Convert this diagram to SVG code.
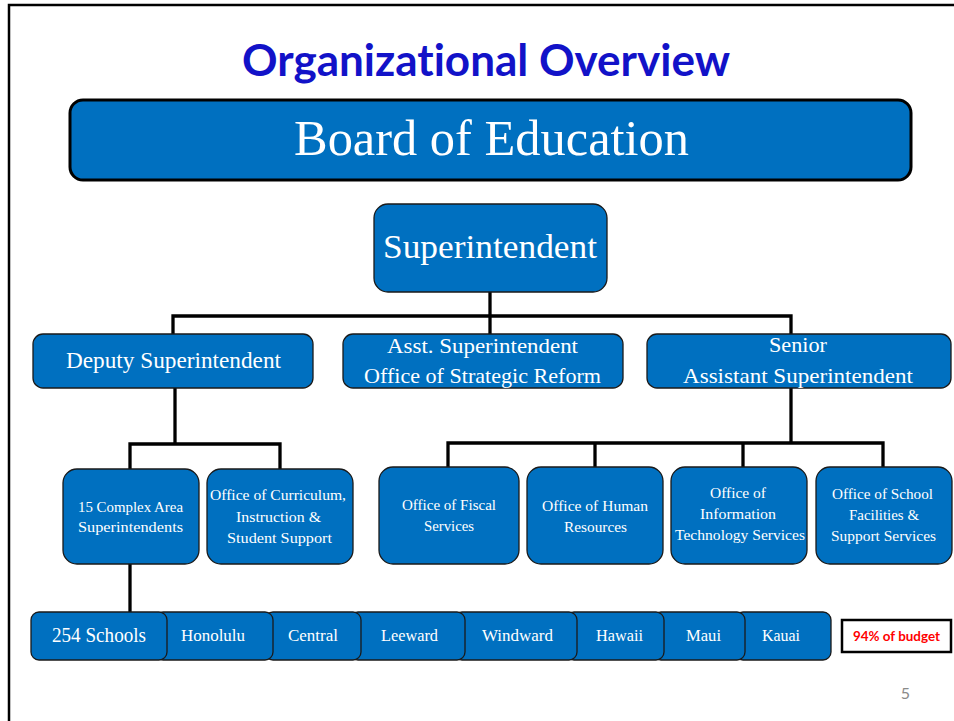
<svg xmlns="http://www.w3.org/2000/svg" width="954" height="721" viewBox="0 0 954 721">
  <style>
    .box { fill: #0070C0; stroke: #1a1a1a; stroke-width: 1.3; }
    .board { fill: #0070C0; stroke: #000; stroke-width: 3; }
    .lbl { font-family: "Liberation Serif", "DejaVu Serif", serif; fill: #fff; text-anchor: middle; }
    .wire { fill: none; stroke: #000; stroke-width: 3.3; stroke-linecap: butt; stroke-linejoin: miter; }
    .title { font-family: Lato, "Open Sans", "Liberation Sans", sans-serif; font-weight: bold; fill: #1212C8; text-anchor: middle; font-variant-ligatures: none; }
  </style>

  <rect width="954" height="721" fill="#fff"/>
  <!-- slide frame -->
  <path d="M9,722 V5 H956" fill="none" stroke="#000" stroke-width="2.5"/>

  <text class="title" x="486" y="76" font-size="44" textLength="488" lengthAdjust="spacingAndGlyphs">Organizational Overview</text>

  <!-- connectors -->
  <g id="connectors" class="wire">
    <path d="M490,292 V334"/>
    <path d="M173,334 V316 H791 V334"/>
    <path d="M175,388 V444"/>
    <path d="M130,469 V444 H280 V469"/>
    <path d="M791,388 V443"/>
    <path d="M448,467 V443 H883 V467"/>
    <path d="M595,443 V467"/>
    <path d="M743,443 V467"/>
    <path d="M130,564 V612"/>
  </g>

  <g id="board">
    <rect class="board" x="70" y="100" width="841" height="80" rx="13"/>
    <text class="lbl" x="491.5" y="155" font-size="50" textLength="395" lengthAdjust="spacingAndGlyphs">Board of Education</text>
  </g>

  <g id="superintendent">
    <rect class="box" x="374" y="204" width="233" height="88" rx="14"/>
    <text class="lbl" x="490" y="258" font-size="34" textLength="214" lengthAdjust="spacingAndGlyphs">Superintendent</text>
  </g>

  <g id="deputy">
    <rect class="box" x="33" y="334" width="280" height="54" rx="10"/>
    <text class="lbl" x="173.5" y="368" font-size="23" textLength="215" lengthAdjust="spacingAndGlyphs">Deputy Superintendent</text>
  </g>

  <g id="asst-strategic">
    <rect class="box" x="343" y="334" width="280" height="54" rx="10"/>
    <text class="lbl" x="482.5" y="353" font-size="22" textLength="191" lengthAdjust="spacingAndGlyphs">Asst. Superintendent</text>
    <text class="lbl" x="482.5" y="383" font-size="22" textLength="237" lengthAdjust="spacingAndGlyphs">Office of Strategic Reform</text>
  </g>

  <g id="senior-asst">
    <rect class="box" x="647" y="334" width="304" height="54" rx="10"/>
    <text class="lbl" x="798" y="352" font-size="22" textLength="58" lengthAdjust="spacingAndGlyphs">Senior</text>
    <text class="lbl" x="798" y="383" font-size="22" textLength="230" lengthAdjust="spacingAndGlyphs">Assistant Superintendent</text>
  </g>

  <g id="complex-area">
    <rect class="box" x="63" y="469" width="136" height="95" rx="14"/>
    <text class="lbl" x="130.5" y="512" font-size="15" textLength="105" lengthAdjust="spacingAndGlyphs">15 Complex Area</text>
    <text class="lbl" x="130.5" y="532" font-size="15" textLength="105" lengthAdjust="spacingAndGlyphs">Superintendents</text>
  </g>

  <g id="curriculum">
    <rect class="box" x="207" y="469" width="146" height="95" rx="14"/>
    <text class="lbl" x="278" y="500" font-size="15" textLength="136" lengthAdjust="spacingAndGlyphs">Office of Curriculum,</text>
    <text class="lbl" x="278.5" y="522" font-size="15" textLength="85" lengthAdjust="spacingAndGlyphs">Instruction &amp;</text>
    <text class="lbl" x="279.5" y="543" font-size="15" textLength="105" lengthAdjust="spacingAndGlyphs">Student Support</text>
  </g>

  <g id="fiscal">
    <rect class="box" x="379" y="467" width="140" height="97" rx="14"/>
    <text class="lbl" x="449" y="510" font-size="15" textLength="94" lengthAdjust="spacingAndGlyphs">Office of Fiscal</text>
    <text class="lbl" x="449" y="531" font-size="15" textLength="50" lengthAdjust="spacingAndGlyphs">Services</text>
  </g>

  <g id="human-resources">
    <rect class="box" x="527" y="467" width="136" height="97" rx="14"/>
    <text class="lbl" x="595" y="511" font-size="15" textLength="106" lengthAdjust="spacingAndGlyphs">Office of Human</text>
    <text class="lbl" x="595.5" y="532" font-size="15" textLength="63" lengthAdjust="spacingAndGlyphs">Resources</text>
  </g>

  <g id="info-tech">
    <rect class="box" x="671" y="467" width="136" height="97" rx="14"/>
    <text class="lbl" x="738" y="498" font-size="15" textLength="56" lengthAdjust="spacingAndGlyphs">Office of</text>
    <text class="lbl" x="738" y="519" font-size="15" textLength="76" lengthAdjust="spacingAndGlyphs">Information</text>
    <text class="lbl" x="740" y="540" font-size="15" textLength="130" lengthAdjust="spacingAndGlyphs">Technology Services</text>
  </g>

  <g id="facilities">
    <rect class="box" x="816" y="467" width="136" height="97" rx="14"/>
    <text class="lbl" x="882.5" y="499" font-size="15" textLength="101" lengthAdjust="spacingAndGlyphs">Office of School</text>
    <text class="lbl" x="884" y="520" font-size="15" textLength="70" lengthAdjust="spacingAndGlyphs">Facilities &amp;</text>
    <text class="lbl" x="883.5" y="541" font-size="15" textLength="105" lengthAdjust="spacingAndGlyphs">Support Services</text>
  </g>

  <!-- school row: drawn right to left so each box overlaps the next -->
  <g id="kauai">
    <rect class="box" x="735" y="612" width="96" height="48" rx="8"/>
    <text class="lbl" x="781" y="641" font-size="17" textLength="38" lengthAdjust="spacingAndGlyphs">Kauai</text>
  </g>
  <g id="maui">
    <rect class="box" x="653" y="612" width="92" height="48" rx="8"/>
    <text class="lbl" x="703.5" y="641" font-size="17" textLength="35" lengthAdjust="spacingAndGlyphs">Maui</text>
  </g>
  <g id="hawaii">
    <rect class="box" x="566" y="612" width="98" height="48" rx="8"/>
    <text class="lbl" x="619.5" y="641" font-size="17" textLength="47" lengthAdjust="spacingAndGlyphs">Hawaii</text>
  </g>
  <g id="windward">
    <rect class="box" x="454" y="612" width="123" height="48" rx="8"/>
    <text class="lbl" x="517.5" y="641" font-size="17" textLength="71" lengthAdjust="spacingAndGlyphs">Windward</text>
  </g>
  <g id="leeward">
    <rect class="box" x="350" y="612" width="115" height="48" rx="8"/>
    <text class="lbl" x="409.5" y="641" font-size="17" textLength="57" lengthAdjust="spacingAndGlyphs">Leeward</text>
  </g>
  <g id="central">
    <rect class="box" x="265" y="612" width="96" height="48" rx="8"/>
    <text class="lbl" x="313" y="641" font-size="17" textLength="50" lengthAdjust="spacingAndGlyphs">Central</text>
  </g>
  <g id="honolulu">
    <rect class="box" x="155" y="612" width="118" height="48" rx="8"/>
    <text class="lbl" x="213" y="641" font-size="17" textLength="64" lengthAdjust="spacingAndGlyphs">Honolulu</text>
  </g>
  <g id="schools">
    <rect class="box" x="31" y="612" width="136" height="48" rx="8"/>
    <text class="lbl" x="99" y="642" font-size="20" textLength="94" lengthAdjust="spacingAndGlyphs">254 Schools</text>
  </g>

  <g id="budget-note">
    <rect x="842" y="620" width="109" height="32" fill="#fff" stroke="#000" stroke-width="2.5"/>
    <text x="896.5" y="641" font-family="Lato, 'Open Sans', 'Liberation Sans', sans-serif" font-weight="bold" font-size="13" fill="#FF0000" text-anchor="middle" textLength="87" lengthAdjust="spacingAndGlyphs">94% of budget</text>
  </g>

  <text x="905.5" y="699" font-family="Lato, 'Open Sans', 'Liberation Sans', sans-serif" font-size="16" fill="#8a8a8a" text-anchor="middle">5</text>
</svg>
